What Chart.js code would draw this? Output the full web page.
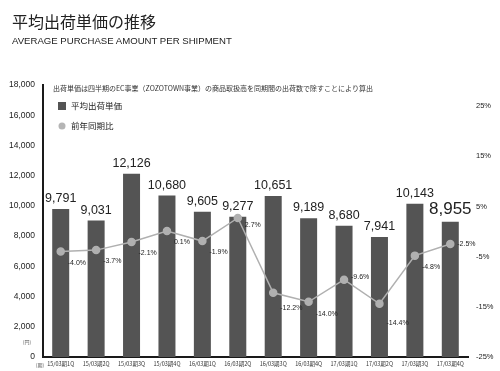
<!DOCTYPE html>
<html>
<head>
<meta charset="utf-8">
<script src="https://cdn.jsdelivr.net/npm/chart.js@4"></script>
<style>
  body { margin: 0; background: #fff; font-family: "Liberation Sans", "Noto Sans CJK JP", sans-serif; }
  #wrap { position: relative; width: 500px; height: 371px; }
  #chart { position: absolute; left: 0; top: 0; }
  .title { position: absolute; left: 12px; top: 9px; font-size: 16px; color: #222; font-family: "Noto Sans CJK JP", sans-serif; }
  .sub { position: absolute; left: 12px; top: 35px; font-size: 9.6px; color: #222; letter-spacing: 0; }
</style>
</head>
<body>
<div id="wrap">
  <canvas id="chart" width="500" height="371"></canvas>
  <div class="title">平均出荷単価の推移</div>
  <div class="sub">AVERAGE PURCHASE AMOUNT PER SHIPMENT</div>
</div>
<script>
  const quarters = ['15/03期1Q', '15/03期2Q', '15/03期3Q', '15/03期4Q', '16/03期1Q', '16/03期2Q',
                    '16/03期3Q', '16/03期4Q', '17/03期1Q', '17/03期2Q', '17/03期3Q', '17/03期4Q'];
  const avgPrice = [9791, 9031, 12126, 10680, 9605, 9277, 10651, 9189, 8680, 7941, 10143, 8955];
  const yoyChange = [-4.0, -3.7, -2.1, 0.1, -1.9, 2.7, -12.2, -14.0, -9.6, -14.4, -4.8, -2.5];
  const rightTicks = [-25, -15, -5, 5, 15, 25];

  const JP = '"Noto Sans CJK JP", sans-serif';
  const SANS = '"Liberation Sans", Arial, sans-serif';

  // vertical nudges for the % labels so they don't sit on the line
  const pctDy = [11, 11, 11, 11, 11, 7, 15, 12, -3, 19, 11, 0];

  const labelsPlugin = {
    id: 'labels',
    afterDatasetsDraw(chart) {
      const ctx = chart.ctx;
      const area = chart.chartArea;
      ctx.save();
      ctx.fillStyle = '#222';

      // values above bars
      const bars = chart.getDatasetMeta(0).data;
      ctx.textAlign = 'center';
      ctx.textBaseline = 'bottom';
      bars.forEach((b, i) => {
        const last = i === bars.length - 1;
        ctx.font = (last ? '17px ' : '12.5px ') + SANS;
        ctx.fillText(avgPrice[i].toLocaleString('en-US'), b.x, b.y - 4);
      });

      // % labels next to points
      const pts = chart.getDatasetMeta(1).data;
      ctx.font = '7px ' + SANS;
      ctx.textAlign = 'left';
      ctx.textBaseline = 'middle';
      pts.forEach((p, i) => {
        ctx.fillText(yoyChange[i].toFixed(1) + '%', p.x + 7, p.y + pctDy[i]);
      });

      // note
      ctx.font = '7px ' + JP;
      ctx.fillStyle = '#333';
      ctx.fillText('出荷単価は四半期のEC事業（ZOZOTOWN事業）の商品取扱高を同期間の出荷数で除すことにより算出', area.left + 10, area.top + 3);

      // legend
      ctx.fillStyle = '#545454';
      ctx.fillRect(area.left + 15, area.top + 17, 8, 8);
      ctx.fillStyle = '#b5b5b5';
      ctx.beginPath();
      ctx.arc(area.left + 19, area.top + 41, 3.5, 0, Math.PI * 2);
      ctx.fill();
      ctx.fillStyle = '#222';
      ctx.font = '8.5px ' + JP;
      ctx.fillText('平均出荷単価', area.left + 28, area.top + 21);
      ctx.fillText('前年同期比', area.left + 28, area.top + 41);

      // units
      ctx.font = '5px ' + JP;
      ctx.fillStyle = '#555';
      ctx.textAlign = 'center';
      ctx.fillText('(円)', 27, chart.scales.y.getPixelForValue(1000));
      ctx.fillText('(期)', 40, area.bottom + 8);
      ctx.restore();
    }
  };

  new Chart(document.getElementById('chart'), {
    data: {
      labels: quarters,
      datasets: [{
        type: 'bar',
        label: '平均出荷単価',
        data: avgPrice,
        backgroundColor: '#545454',
        barPercentage: 0.48,
        categoryPercentage: 1,
        yAxisID: 'y',
        order: 1
      }, {
        type: 'line',
        label: '前年同期比',
        data: yoyChange,
        borderColor: '#b0b0b0',
        backgroundColor: '#b0b0b0',
        borderWidth: 1.5,
        pointRadius: 3.5,
        tension: 0,
        yAxisID: 'y2',
        order: 0
      }]
    },
    options: {
      responsive: false,
      animation: false,
      layout: { padding: { top: 85, right: 0, left: 0, bottom: 0 } },
      plugins: { legend: { display: false }, tooltip: { enabled: false } },
      scales: {
        x: {
          grid: { display: false, drawTicks: false },
          border: { color: '#1a1a1a', width: 2 },
          ticks: { font: { size: 5.5, family: JP }, color: '#333', maxRotation: 0, autoSkip: false, padding: 4 },
          afterFit(s) { s.height = 14; }
        },
        y: {
          position: 'left',
          min: 0, max: 18000,
          grid: { display: false, drawTicks: false },
          border: { color: '#1a1a1a', width: 2 },
          ticks: {
            stepSize: 2000, padding: 8, color: '#222',
            font: { size: 8.5, family: SANS },
            callback: v => v.toLocaleString('en-US')
          },
          afterFit(s) { s.width = 43; }
        },
        y2: {
          position: 'right',
          min: -25, max: 29.2,
          grid: { display: false, drawTicks: false },
          border: { display: false },
          ticks: { padding: 8, color: '#222', font: { size: 7.5, family: SANS }, callback: v => v + '%' },
          afterBuildTicks(s) { s.ticks = rightTicks.map(v => ({ value: v })); },
          afterFit(s) { s.width = 32; }
        }
      }
    },
    plugins: [labelsPlugin]
  });
</script>
</body>
</html>
